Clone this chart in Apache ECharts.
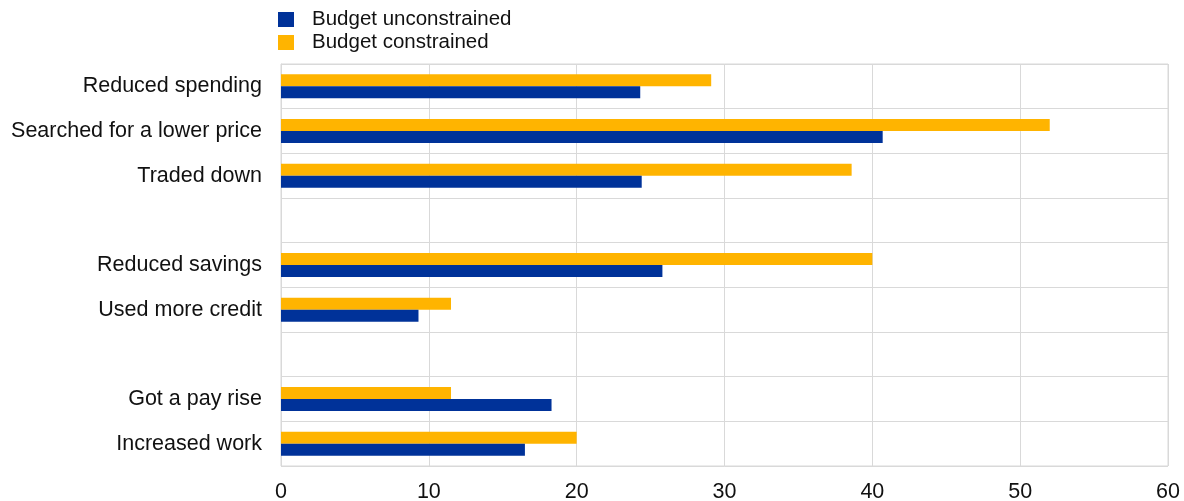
<!DOCTYPE html>
<html><head><meta charset="utf-8">
<script src="https://cdn.jsdelivr.net/npm/echarts@6/dist/echarts.min.js"></script>
<style>html,body{margin:0;padding:0;background:#fff}#c{width:1184px;height:501px}</style>
</head><body><div id="c"></div>
<script>
var categories = ['Reduced spending','Searched for a lower price','Traded down',' ','Reduced savings','Used more credit','  ','Got a pay rise','Increased work'];
var unconstrained = [24.3, 40.7, 24.4, null, 25.8, 9.3, null, 18.3, 16.5];
var constrained = [29.1, 52.0, 38.6, null, 40.0, 11.5, null, 11.5, 20.0];
var xTicks = [0, 10, 20, 30, 40, 50, 60];

var chart = echarts.init(document.getElementById('c'));
var font = 'Liberation Sans, Arial, sans-serif';
chart.setOption({
  animation: false,
  legend: {
    orient: 'vertical', left: 278, top: 9, itemWidth: 16, itemHeight: 15, itemGap: 2, icon: 'rect', padding: 0,
    textStyle: {fontFamily: font, fontSize: 20.5, color: '#111', padding: [0, 0, 0, 13]},
    data: ['Budget unconstrained', 'Budget constrained']
  },
  grid: {left: 281, right: 16, top: 64, bottom: 35, containLabel: false, outerBoundsMode: 'none', show: true, borderColor: '#d9d9d9', borderWidth: 1},
  xAxis: {
    type: 'value', min: xTicks[0], max: xTicks[xTicks.length-1], interval: 10,
    axisLine: {show: false}, axisTick: {show: false},
    axisLabel: {fontFamily: font, fontSize: 21.5, color: '#111', margin: 15},
    splitLine: {lineStyle: {color: '#d9d9d9'}}
  },
  yAxis: {
    type: 'category', inverse: true, data: categories,
    axisLine: {lineStyle: {color: '#d9d9d9'}}, axisTick: {show: false},
    axisLabel: {fontFamily: font, fontSize: 21.5, color: '#111', margin: 19},
    splitLine: {show: true, lineStyle: {color: '#d9d9d9'}}
  },
  series: [
    {name: 'Budget constrained', type: 'bar', data: constrained, barWidth: 12, barGap: '0%', itemStyle: {color: '#ffb400'}},
    {name: 'Budget unconstrained', type: 'bar', data: unconstrained, barWidth: 12, barGap: '0%', itemStyle: {color: '#003299'}}
  ]
});
</script></body></html>
